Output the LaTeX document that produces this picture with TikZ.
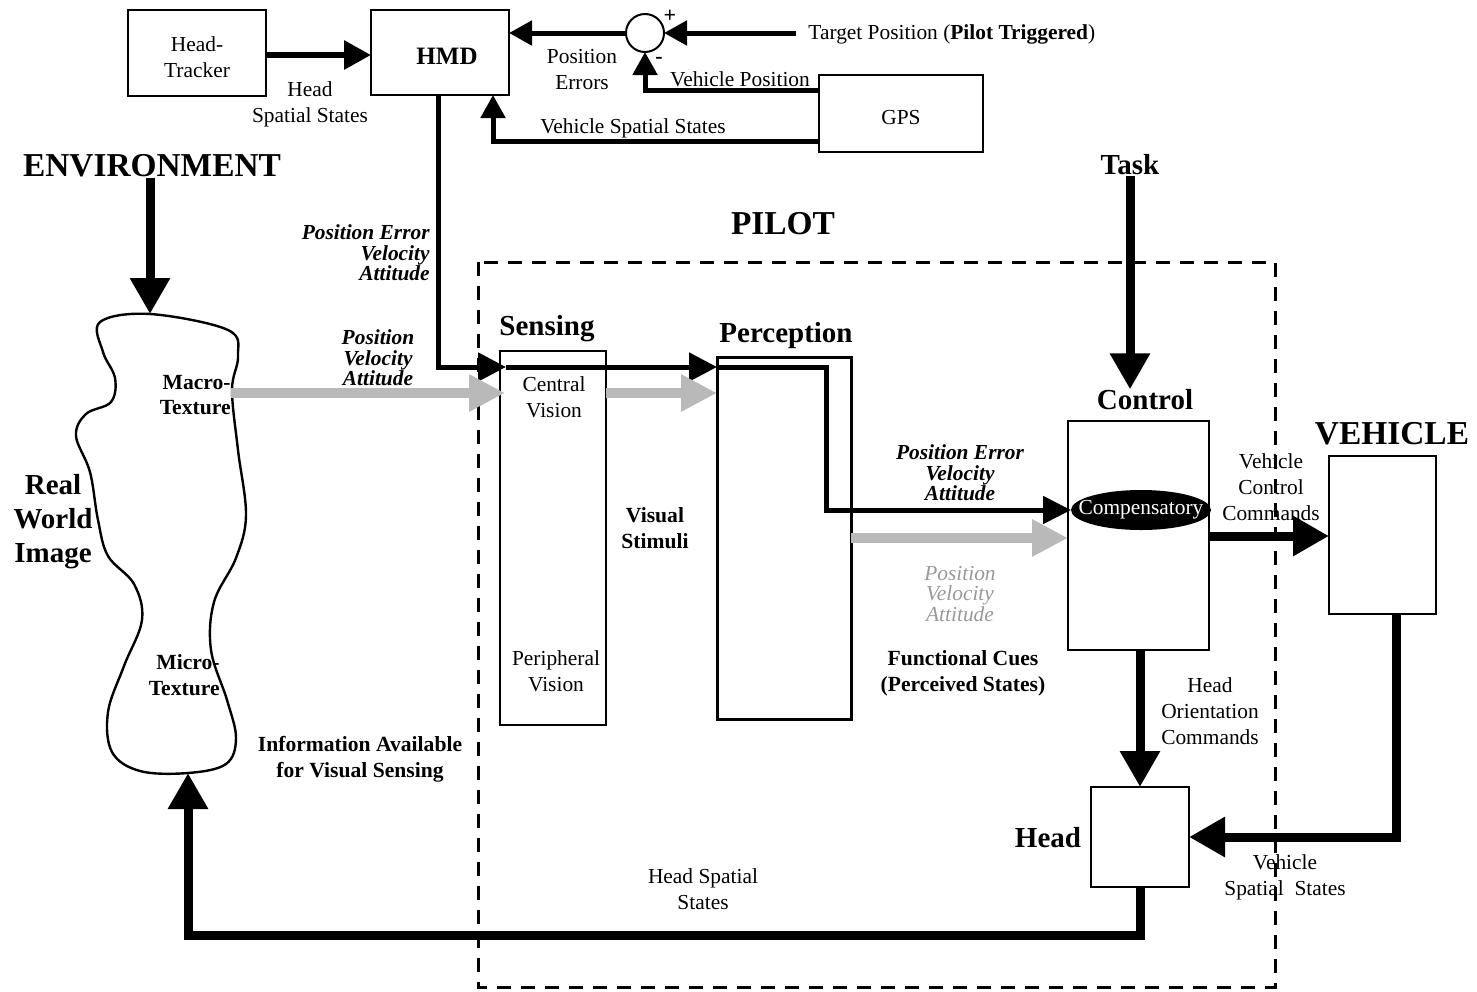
\documentclass[tikz,border=0pt]{standalone}
\usepackage{fontspec}
\setmainfont{Liberation Serif}
\usetikzlibrary{arrows.meta,calc,shapes.geometric}

\tikzset{
  box/.style={draw, line width=1pt, inner sep=0pt, outer sep=0pt, align=center},
  txt/.style={align=center, inner sep=0pt, font=\fontsize{10.7}{13}\selectfont},
  btxt/.style={align=center, inner sep=0pt, font=\fontsize{10.8}{12.8}\selectfont\bfseries},
  bitxt/.style={align=center, inner sep=0pt, font=\fontsize{10.7}{10.3}\selectfont\bfseries\itshape},
  title/.style={inner sep=0pt, font=\fontsize{14.5}{17}\selectfont\bfseries, align=center},
  bigtitle/.style={inner sep=0pt, font=\fontsize{16.7}{19}\selectfont\bfseries},
  arrL/.style={line width=4.5pt, -{Triangle[length=18pt,width=19pt]}},
  arrM/.style={line width=2.5pt, -{Triangle[length=14pt,width=14pt]}},
  arrS/.style={line width=2.5pt, -{Triangle[length=11.5pt,width=12pt]}},
  grayarr/.style={line width=5pt, draw=gray!55, -{Triangle[length=18pt,width=17.5pt]}},
}

\begin{document}
\begin{tikzpicture}[x=0.5pt,y=-0.5pt]
\useasboundingbox (0,0) rectangle (1477,991);

% ---------- top row: head tracker, HMD, summing junction, GPS ----------
\node[box, minimum width=69pt, minimum height=43pt, font=\fontsize{10.7}{13}\selectfont] (ht) at (197,53) {};
\node[txt] (htl) at (197,57) {Head-\\Tracker};
\node[box, minimum width=69pt, minimum height=42.5pt] (hmd) at (440,52.5) {};
\node[inner sep=0pt, font=\fontsize{12.5}{14}\selectfont\bfseries] (hmdl) at (447,56) {HMD};
\node[draw, line width=1pt, circle, minimum size=19pt, inner sep=0pt, outer sep=0pt] (sum) at (645,33) {};
\node[box, minimum width=82pt, minimum height=38.5pt] (gps) at (901,113.5) {};
\node[txt] (gpsl) at (901,118) {GPS};
\coordinate (tp) at (796,33);

\draw[line width=3pt, -{Triangle[length=13.5pt,width=14pt]}] (ht.east |- 0,55) -- (hmd.west |- 0,55);
\draw[arrS] (sum.west) -- (sum.west -| hmd.east);
\draw[arrS] (tp) -- (sum.east);
\draw[arrS] ($(gps.west)+(0,-23)$) -| (sum.south);
\draw[arrS] ($(gps.west)+(0,28)$) -| ($(hmd.south)+(53,0)$);

\node[txt, anchor=west] (tpl) at (808,34) {Target Position (\textbf{Pilot Triggered})};
\node[txt] (hssl) at (310,104) {Head\\Spatial States};
\node[txt] (pel) at (582,70) {Position\\Errors};
\node[txt] (vpl) at (740,79) {Vehicle Position};
\node[txt] (vssl) at (633,128) {Vehicle Spatial States};
\node[inner sep=0pt, font=\fontsize{11}{12}\selectfont\bfseries] (plus) at (670,16) {+};
\node[inner sep=0pt, font=\fontsize{11}{12}\selectfont\bfseries] (minus) at (659,60) {-};

% ---------- environment and the real world image ----------
\node[bigtitle] (env) at (152,166) {ENVIRONMENT};
\coordinate (blobtop) at (150,314);
\coordinate (blobbot) at (188,773);
\draw[line width=1.2pt] plot[smooth cycle, tension=0.6] coordinates {
  (100,322) (150,314) (228,330) (238,356) (232,390) (238,450) (246,515)
  (236,558) (214,602) (211,650) (227,700) (236,738) (226,764) (188,773)
  (140,771) (112,752) (108,712) (124,666) (142,620) (134,584) (108,556)
  (98,520) (90,472) (76,436) (86,414) (111,402) (115,378) (103,352)};
\draw[arrL] (env.south -| blobtop) -- (blobtop);

\node[title] (rwi) at (53,522) {Real\\World\\Image};
\node[btxt, align=right, anchor=east] (macro) at (231,395) {Macro-\\Texture};
\node[btxt, align=right, anchor=east] (micro) at (220,675) {Micro-\\Texture};
\node[btxt] (info) at (360,759) {Information Available\\for Visual Sensing};

% ---------- pilot ----------
\node[bigtitle] (pilot) at (783,224) {PILOT};
\draw[line width=1.5pt, dash pattern=on 7pt off 5pt] (478,262) rectangle (1275,987);

\node[box, minimum width=53pt, minimum height=187pt] (sens) at (553,538) {};
\node[box, line width=1.5pt, minimum width=67pt, minimum height=181pt] (perc) at (784,538) {};
\node[box, minimum width=70.5pt, minimum height=114.5pt] (ctrl) at (1138.5,535.5) {};
\node[ellipse, fill=black, minimum width=70pt, minimum height=20pt, inner sep=0pt, outer sep=0pt] (comp) at (1141,510) {};
\node[inner sep=0pt, text=white, font=\fontsize{10.7}{12}\selectfont] (compl) at (comp) {Compensatory};
\node[box, minimum width=49pt, minimum height=50pt] (head) at (1140,837) {};
\node[box, minimum width=53.5pt, minimum height=79pt] (veh) at (1382.5,535) {};

\node[title] (sensl) at (547,329) {Sensing};
\node[title] (percl) at (786,336) {Perception};
\node[title] (ctrll) at (1145,400) {Control};
\node[title] (task) at (1130,165) {Task};
\node[title] (headl) at (1048,838) {Head};
\node[bigtitle] (vehl) at (1392,434) {VEHICLE};

\node[txt] (cv) at (554,397) {Central\\Vision};
\node[txt] (pv) at (556,671) {Peripheral\\Vision};
\node[btxt] (vs) at (655,528) {Visual\\Stimuli};
\node[btxt] (fc) at (963,673) {Functional Cues\\(Perceived States)};

% HMD symbology path into sensing, perception and control
\coordinate (sensin) at (506,367);
\draw[arrM] ($(hmd.south)+(-2,0)$) |- (sensin);
\draw[arrM] (sensin) -- (perc.west |- sensin);
\draw[line width=2.5pt, -{Triangle[length=14pt,width=13.5pt]}] (perc.west |- sensin) -| (826,510) -- (comp.west);

% real world cues (grey)
\draw[grayarr] (macro.east |- 0,393) -- (505,393);
\draw[grayarr] (sens.east |- 0,393) -- (perc.west |- 0,393);
\draw[grayarr] (perc.east |- 0,538) -- (ctrl.west |- 0,538);

\node[bitxt, align=right, anchor=east] (hmdcues) at (430,253) {Position Error\\Velocity\\Attitude};
\node[bitxt] (rwcues) at (378,358) {Position\\Velocity\\Attitude};
\node[bitxt] (pcues) at (960,473) {Position Error\\Velocity\\Attitude};
\node[align=center, inner sep=0pt, font=\fontsize{10.7}{10.3}\selectfont\itshape, text=gray!80] (gcues) at (960,594) {Position\\Velocity\\Attitude};

% task, control and vehicle loops
\draw[arrL] (task.south) -- (ctrll.north -| task.south);
\draw[arrL] (ctrl.east |- 0,536) -- (veh.west |- 0,536);
\draw[arrL] (ctrl.south -| head.north) -- (head.north);
\draw[arrL] ($(veh.south)+(14,0)$) |- (head.east);
\draw[arrL] (head.south) |- (blobbot |- 0,935) -- (blobbot);

\node[txt] (vccl) at (1271,487) {Vehicle\\Control\\Commands};
\node[txt] (hocl) at (1210,711) {Head\\Orientation\\Commands};
\node[txt] (vss2) at (1285,877) {Vehicle\\Spatial~~States};
\node[txt] (hss2) at (703,889) {Head Spatial\\States};

\end{tikzpicture}
\end{document}
